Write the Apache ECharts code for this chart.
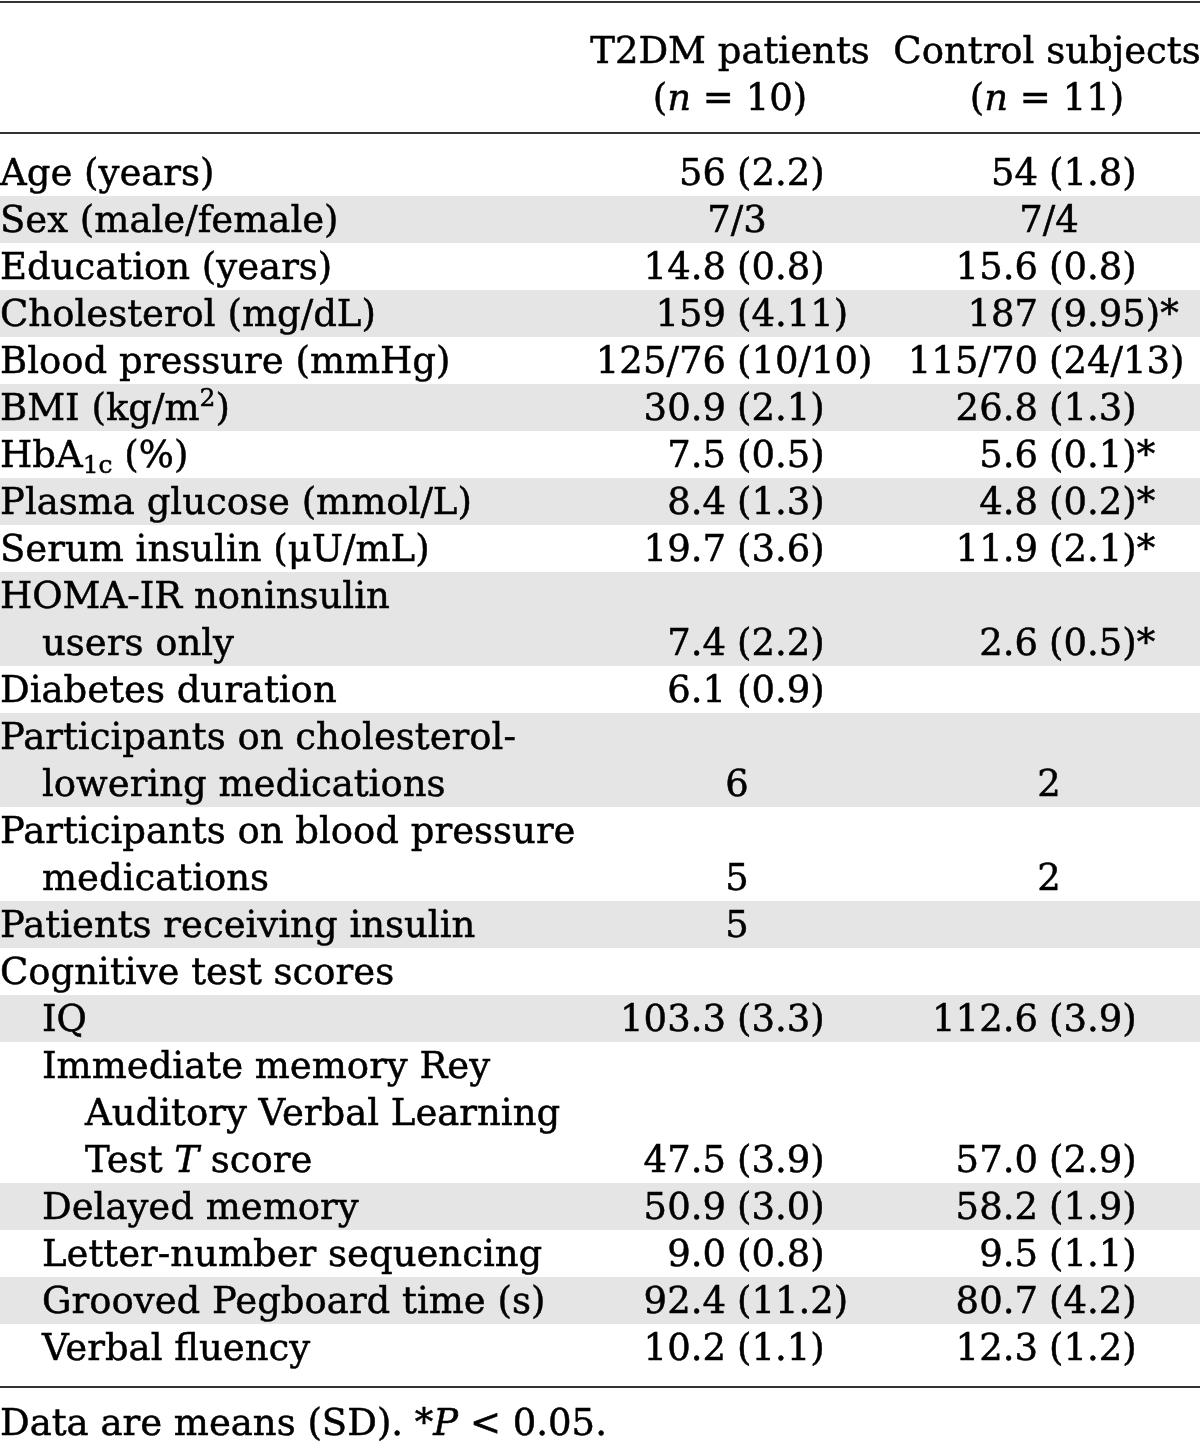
<!DOCTYPE html>
<html><head><meta charset="utf-8">
<script src="https://cdn.jsdelivr.net/npm/echarts@6/dist/echarts.min.js"></script>
<style>html,body{margin:0;padding:0;background:#fff}#c{width:1200px;height:1448px}</style>
</head><body><div id="c"></div>
<script>
// ---------- data ----------
const headerT2dm = ['T2DM patients', '({i|n} = 10)'];
const headerControl = ['Control subjects', '({i|n} = 11)'];
const rowLabels = [
  'Age (years)',
  'Sex (male/female)',
  'Education (years)',
  'Cholesterol (mg/dL)',
  'Blood pressure (mmHg)',
  'BMI (kg/m{sup|2})',
  'HbA{sub|1c} (%)',
  'Plasma glucose (mmol/L)',
  'Serum insulin (\u03bcU/mL)',
  'HOMA-IR noninsulin',
  'users only',
  'Diabetes duration',
  'Participants on cholesterol-',
  'lowering medications',
  'Participants on blood pressure',
  'medications',
  'Patients receiving insulin',
  'Cognitive test scores',
  'IQ',
  'Immediate memory Rey',
  'Auditory Verbal Learning',
  'Test {i|T} score',
  'Delayed memory',
  'Letter-number sequencing',
  'Grooved Pegboard time (s)',
  'Verbal fluency'
];
const rowIndent = [0,0,0,0,0,0,0,0,0,0,1,0,0,1,0,1,0,0,1,1,2,2,1,1,1,1];
const t2dmValues = [
  '56 (2.2)', '7/3', '14.8 (0.8)', '159 (4.11)', '125/76 (10/10)', '30.9 (2.1)',
  '7.5 (0.5)', '8.4 (1.3)', '19.7 (3.6)', '', '7.4 (2.2)', '6.1 (0.9)', '', '6',
  '', '5', '5', '', '103.3 (3.3)', '', '', '47.5 (3.9)', '50.9 (3.0)', '9.0 (0.8)',
  '92.4 (11.2)', '10.2 (1.1)'
];
const controlValues = [
  '54 (1.8)', '7/4', '15.6 (0.8)', '187 (9.95)*', '115/70 (24/13)', '26.8 (1.3)',
  '5.6 (0.1)*', '4.8 (0.2)*', '11.9 (2.1)*', '', '2.6 (0.5)*', '', '', '2',
  '', '2', '', '', '112.6 (3.9)', '', '', '57.0 (2.9)', '58.2 (1.9)', '9.5 (1.1)',
  '80.7 (4.2)', '12.3 (1.2)'
];
const shadedRows = [1, 3, 5, 7, 9, 10, 12, 13, 16, 18, 22, 24];
const footnote = 'Data are means (SD). *{i|P} < 0.05.';

// ---------- layout / style ----------
const FONT = '"DejaVu Serif", serif';
const FS = 37;
const INK = '#000';
const SHADE = '#e5e5e5';
const RULE = '#333';
const INDENT_X = [0, 42, 85];
const PAREN_X = [737, 1049];
const HEAD_X = [730, 1047];
const GAP = 11;
const DY = 3;
const HEAD_Y = [-2.106, -1.106];
const RULE_Y = [-3.13, -0.34, 26.34];
const FOOT_Y = 27.1;

const RICH = {
  i: {fontFamily: FONT, fontSize: FS, fontStyle: 'italic', fill: INK},
  sup: {fontFamily: FONT, fontSize: 25, fill: INK, padding: [0, 0, 22, 0]},
  sub: {fontFamily: FONT, fontSize: 25, fill: INK, padding: [18, 0, 0, 0]}
};
function txt(x, y, text, align) {
  return {type: 'text', x: x, y: y + DY, style: {
    text: text, fontFamily: FONT, fontSize: FS, fill: INK,
    stroke: INK, lineWidth: 0.5,
    align: align, verticalAlign: 'middle', rich: RICH
  }};
}
function valueCell(s, px, y) {
  if (!s) return [];
  const i = s.indexOf(' (');
  if (i < 0) return [txt(px, y, s, 'center')];
  return [txt(px - GAP, y, s.slice(0, i), 'right'), txt(px, y, s.slice(i + 1), 'left')];
}

const chart = echarts.init(document.getElementById('c'), null, {renderer: 'canvas'});
chart.setOption({
  backgroundColor: '#fff',
  animation: false,
  grid: {left: 0, right: 0, top: 8, bottom: 30},
  xAxis: {type: 'value', min: 0, max: 1200, show: false},
  yAxis: {type: 'value', min: -3, max: 27, inverse: true, show: false},
  series: [
    {
      type: 'custom', clip: false, silent: true,
      data: shadedRows.map(function (r) { return [r]; }),
      renderItem: function (params, api) {
        const k = api.value(0);
        const p0 = api.coord([0, k]);
        const p1 = api.coord([1200, k + 1]);
        return {type: 'rect', shape: {x: p0[0], y: p0[1], width: p1[0] - p0[0], height: p1[1] - p0[1]},
          style: {fill: SHADE}};
      }
    },
    {
      type: 'custom', clip: false, silent: true,
      data: RULE_Y.map(function (v) { return [v]; }),
      renderItem: function (params, api) {
        const v = api.value(0);
        const p0 = api.coord([0, v]);
        const p1 = api.coord([1200, v]);
        return {type: 'line', shape: {x1: p0[0], y1: p0[1], x2: p1[0], y2: p1[1]},
          style: {stroke: RULE, lineWidth: 2}};
      }
    },
    {
      type: 'custom', clip: false, silent: true,
      data: rowLabels.map(function (_, k) { return [k]; }),
      renderItem: function (params, api) {
        const k = api.value(0);
        const y = api.coord([0, k + 0.5])[1];
        const xl = api.coord([INDENT_X[rowIndent[k]], 0])[0];
        const x1 = api.coord([PAREN_X[0], 0])[0];
        const x2 = api.coord([PAREN_X[1], 0])[0];
        const children = [txt(xl, y, rowLabels[k], 'left')]
          .concat(valueCell(t2dmValues[k], x1, y))
          .concat(valueCell(controlValues[k], x2, y));
        return {type: 'group', children: children};
      }
    },
    {
      type: 'custom', clip: false, silent: true,
      data: [[0], [1]],
      renderItem: function (params, api) {
        const j = api.value(0);
        const y = api.coord([0, HEAD_Y[j]])[1];
        const a = api.coord([HEAD_X[0], 0])[0];
        const b = api.coord([HEAD_X[1], 0])[0];
        return {type: 'group', children: [
          txt(a, y, headerT2dm[j], 'center'),
          txt(b, y, headerControl[j], 'center')
        ]};
      }
    },
    {
      type: 'custom', clip: false, silent: true,
      data: [[0]],
      renderItem: function (params, api) {
        const p = api.coord([0, FOOT_Y]);
        return txt(p[0], p[1], footnote, 'left');
      }
    }
  ]
});
</script>
</body></html>
